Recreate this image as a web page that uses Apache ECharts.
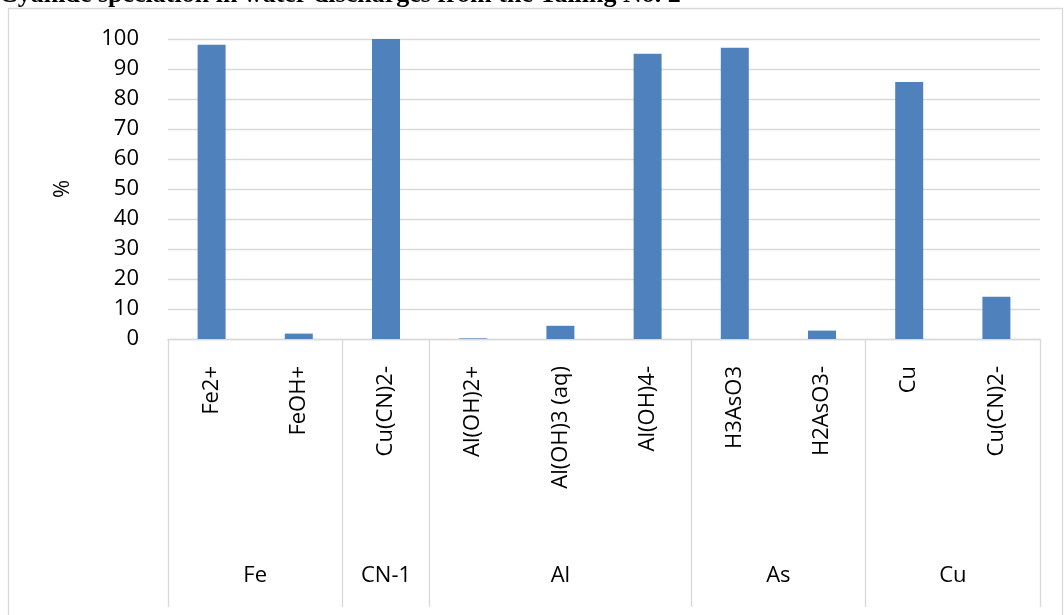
<!DOCTYPE html>
<html>
<head>
<meta charset="utf-8">
<script src="https://cdn.jsdelivr.net/npm/echarts@6/dist/echarts.min.js"></script>
<style>
  html, body { margin: 0; padding: 0; background: #fff; }
  #chart { width: 1064px; height: 615px; }
</style>
</head>
<body>
<div id="chart"></div>
<script>
// Species and their share (%) of each element's speciation
const species = ['Fe2+', 'FeOH+', 'Cu(CN)2-', 'Al(OH)2+', 'Al(OH)3 (aq)', 'Al(OH)4-', 'H3AsO3', 'H2AsO3-', 'Cu', 'Cu(CN)2-'];
const percent = [98.1, 1.8, 100, 0.2, 4.4, 95.1, 97.1, 2.8, 85.7, 14.1];
// Element groups along the outer axis level, with how many species each holds
const groups = ['Fe', 'CN-1', 'Al', 'As', 'Cu'];
const groupSizes = [2, 1, 3, 2, 2];
const yTicks = [0, 10, 20, 30, 40, 50, 60, 70, 80, 90, 100];

// Group boundaries and centres in category units
const boundaries = [0];
groupSizes.forEach(n => boundaries.push(boundaries[boundaries.length - 1] + n));
const centres = groups.map((g, i) => (boundaries[i] + boundaries[i + 1]) / 2);

const font = '"Open Sans", "Noto Sans", sans-serif';
const grey = '#d9d9d9';

const chart = echarts.init(document.getElementById('chart'), null, { renderer: 'canvas' });
chart.setOption({
  animation: false,
  title: {
    text: 'Cyanide speciation in water discharges from the Tailing No. 2',
    left: -1,
    top: -18,
    padding: 0,
    textStyle: { fontFamily: '"Liberation Serif", serif', fontWeight: 'bold', fontSize: 26, color: '#000' }
  },
  graphic: [{
    type: 'rect',
    shape: { x: 8.5, y: 8.5, width: 1054, height: 610 },
    style: { fill: 'none', stroke: grey, lineWidth: 1.3 },
    silent: true,
    z: -1
  }],
  grid: { left: 168, right: 24, top: 39, bottom: 276 },
  xAxis: [{
    type: 'category',
    data: species,
    position: 'bottom',
    axisLine: { show: true, lineStyle: { color: grey, width: 1.3 } },
    axisTick: { show: false },
    axisLabel: {
      rotate: 90, interval: 0, margin: 27,
      fontFamily: font, fontSize: 22, color: '#000'
    },
    splitLine: { show: false }
  }, {
    type: 'value',
    min: 0,
    max: species.length,
    position: 'bottom',
    axisLine: { show: false },
    axisTick: {
      show: true, length: 268, inside: false,
      customValues: boundaries,
      lineStyle: { color: grey, width: 1.3 }
    },
    axisLabel: {
      show: true, margin: 226,
      customValues: centres,
      formatter: v => groups[centres.indexOf(v)] || '',
      fontFamily: font, fontSize: 22, color: '#000'
    },
    splitLine: { show: false }
  }],
  yAxis: {
    type: 'value',
    min: yTicks[0],
    max: yTicks[yTicks.length - 1],
    interval: 10,
    name: '%',
    nameLocation: 'middle',
    nameGap: 94,
    nameRotate: 90,
    nameTextStyle: { fontFamily: font, fontSize: 22, color: '#000' },
    axisLine: { show: false },
    axisTick: { show: false },
    axisLabel: { margin: 29, fontFamily: font, fontSize: 22, color: '#000' },
    splitLine: { lineStyle: { color: grey, width: 1.3 } }
  },
  series: [{
    type: 'bar',
    xAxisIndex: 0,
    data: percent,
    barWidth: 28,
    itemStyle: { color: '#4f81bd' }
  }]
});
</script>
</body>
</html>
